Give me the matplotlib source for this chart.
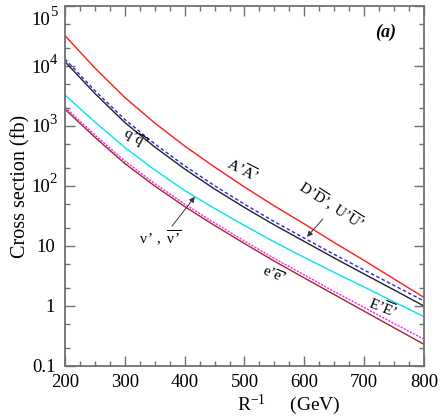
import numpy as np
import matplotlib
matplotlib.use('Agg')
import matplotlib.pyplot as plt
import matplotlib.transforms as mtransforms
from matplotlib.ticker import FixedLocator, FuncFormatter

plt.rcParams['font.family'] = ['Liberation Serif', 'DejaVu Serif']
plt.rcParams['mathtext.fontset'] = 'custom'
plt.rcParams['mathtext.rm'] = 'Liberation Serif'
plt.rcParams['mathtext.it'] = 'Liberation Serif:italic'
plt.rcParams['mathtext.bf'] = 'Liberation Serif:bold'

# R^-1 (GeV)
r_inv = [200, 250, 300, 350, 400, 450, 500, 550, 600, 650, 700, 750, 800]

# cross sections (fb)
xs_AA = [32000, 9260, 2985, 1122, 464, 207, 96.2, 46.4, 23.3, 11.4, 5.73, 2.82, 1.39]
xs_DD = [13100, 3876, 1283, 503, 217, 101.2, 49.7, 25.4, 13.5, 7.22, 3.98, 2.20, 1.21]
xs_UU = [11800, 3481, 1144, 447, 192, 89.1, 43.8, 22.4, 11.9, 6.31, 3.41, 1.85, 1.00]
xs_nn = [3286, 1166, 438, 185, 84.1, 42.2, 21.96, 11.66, 6.43, 3.62, 2.07, 1.166, 0.663]
xs_ee = [2057, 708, 261, 110, 50.1, 24.2, 12.1, 6.19, 3.29, 1.74, 0.944, 0.511, 0.279]
xs_EE = [1905, 648, 237, 100, 45.5, 21.96, 11.0, 5.58, 2.93, 1.55, 0.819, 0.433, 0.230]

y_ticks = [0.1, 1, 10, 100, 1e3, 1e4, 1e5]
y_plain = {0.1: '0.1', 1: '1', 10: '10'}
y_powers = [(100, '2'), (1e3, '3'), (1e4, '4'), (1e5, '5')]
x_ticks = [200, 300, 400, 500, 600, 700, 800]

fig = plt.figure(figsize=(4.43, 4.2), dpi=100)
ax = fig.add_axes([0.1467, 0.1286, 0.8104, 0.8571])

lw = 1.0
ax.plot(r_inv, xs_AA, color='#ff1a1a', lw=lw)
ax.plot(r_inv, xs_DD, color='#2020ff', lw=lw, dashes=(2.5, 1.8))
ax.plot(r_inv, xs_UU, color='#222222', lw=lw)
ax.plot(r_inv, xs_nn, color='#00e5ee', lw=lw)
ax.plot(r_inv, xs_ee, color='#ff22ff', lw=lw, dashes=(1.6, 0.9))
ax.plot(r_inv, xs_EE, color='#a02828', lw=lw)

ax.set_yscale('log')
ax.set_xlim(200, 800)
ax.set_ylim(0.1, 1e5)

ax.yaxis.set_major_locator(FixedLocator(y_ticks))
ax.yaxis.set_major_formatter(FuncFormatter(lambda v, p: y_plain.get(v, '')))
minors = [m * d for d in [0.1, 1, 10, 100, 1e3, 1e4] for m in (2, 5)]
ax.yaxis.set_minor_locator(FixedLocator(minors))
ax.xaxis.set_major_locator(FixedLocator(x_ticks))
ax.xaxis.set_minor_locator(FixedLocator(np.arange(200, 801, 25)))

spine_col = '#707070'
for s in ax.spines.values():
    s.set_color(spine_col)
    s.set_linewidth(1.3)
ax.tick_params(which='both', direction='in', top=True, right=True, color=spine_col, width=1.0)
ax.tick_params(which='major', length=7, labelsize=13.5, pad=6)
ax.tick_params(which='minor', length=3.5)
ax.tick_params(axis='y', pad=7)

# powers of ten drawn by hand so the exponent is large, as in the original
blend = mtransforms.blended_transform_factory(ax.transAxes, ax.transData)
for v, e in y_powers:
    dy = -12 if v == 1e5 else 0
    t_base = mtransforms.offset_copy(blend, fig=fig, x=-15, y=dy - 2, units='dots')
    t_exp = mtransforms.offset_copy(blend, fig=fig, x=-8, y=dy + 6, units='dots')
    ax.text(0, v, '10', transform=t_base, ha='right', va='center', fontsize=13.5)
    ax.text(0, v, e, transform=t_exp, ha='right', va='center', fontsize=10.5)

ax.set_ylabel('Cross section (fb)', fontsize=14.5, labelpad=1)
ax.text(0.624, -0.108, r'R$^{-1}$     (GeV)', transform=ax.transAxes,
        ha='center', va='center', fontsize=14)

ax.text(736, 36000, '(a)', fontsize=13, fontweight='bold', fontstyle='italic',
        ha='center', va='center')

lab = 11
ax.text(497, 185, r"$\mathrm{A’\overline{A}’}$", fontsize=lab, rotation=-27,
        ha='center', va='center')
ax.text(317, 584, r"$\mathrm{q’\overline{q}’}$", fontsize=lab, rotation=-30,
        ha='center', va='center')
ax.text(646, 48, r"$\mathrm{D’\overline{D}’,\ U’\overline{U}’}$", fontsize=lab,
        rotation=-33, ha='center', va='center')
ax.text(359, 13.6, r"$\mathrm{\nu\,’\ ,\ \overline{\nu\,’}}$", fontsize=lab,
        ha='center', va='center')
ax.text(549, 3.3, r"$\mathrm{e’\overline{e}’}$", fontsize=lab, rotation=-22,
        ha='center', va='center')
ax.text(731, 0.93, r"$\mathrm{E’\overline{E}’}$", fontsize=lab, rotation=-22,
        ha='center', va='center')

arrow = dict(arrowstyle='-|>', color='#333333', lw=0.7, mutation_scale=8,
             shrinkA=0, shrinkB=0)
ax.annotate('', xy=(604.5, 14.2), xytext=(631, 28.2), arrowprops=arrow)
ax.annotate('', xy=(417, 66), xytext=(379, 21.5), arrowprops=arrow)

fig.savefig('out.png', dpi=100)
